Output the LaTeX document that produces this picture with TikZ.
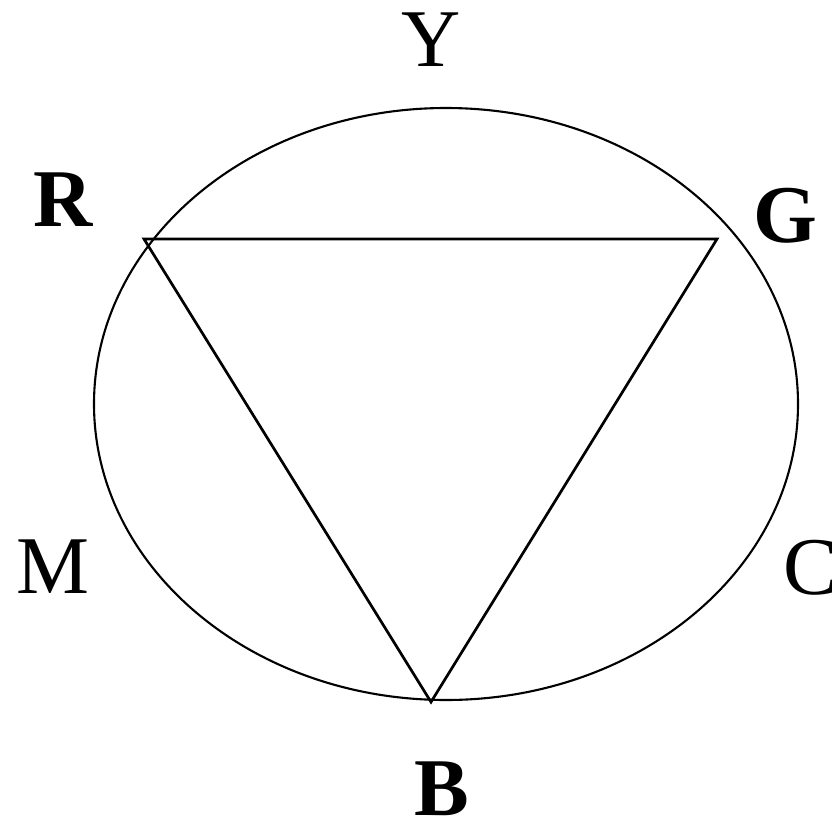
\documentclass[tikz,border=0pt]{standalone}
\usepackage{fontspec}
\setmainfont{Liberation Serif}
\usetikzlibrary{shapes.geometric}
\begin{document}
\begin{tikzpicture}[x=1pt,y=-1pt,
  lbl/.style={inner sep=0pt,font=\fontsize{82}{82}\selectfont},
  blbl/.style={inner sep=0pt,font=\fontsize{82}{82}\selectfont\bfseries},
  edge/.style={line width=2.7pt,line join=miter}]
\path[use as bounding box] (0,0) rectangle (832,824);
\node[draw,ellipse,line width=2.1pt,minimum width=704pt,minimum height=592pt,inner sep=0pt] (ell) at (446,404) {};
\coordinate (r) at (144,239);
\coordinate (g) at (717,239);
\coordinate (b) at (431,702);
\draw[edge] (r) -- (g) -- (b) -- cycle;
\node[lbl] (Y) at (431,40) {Y};
\node[blbl] (R) at (63,200) {R};
\node[blbl] (G) at (785,216) {G};
\node[lbl] (M) at (53,567) {M};
\node[lbl,anchor=west] (C) at (783,568) {C};
\node[blbl] (B) at (442,789) {B};
\end{tikzpicture}
\end{document}
